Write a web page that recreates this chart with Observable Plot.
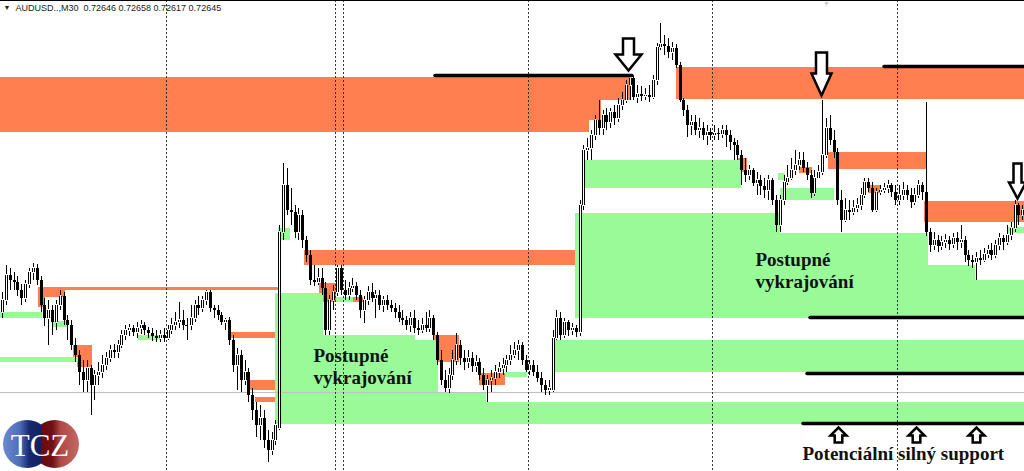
<!DOCTYPE html>
<html><head><meta charset="utf-8">
<script src="https://cdn.jsdelivr.net/npm/d3@7"></script>
<script src="https://cdn.jsdelivr.net/npm/@observablehq/plot@0.6"></script>
<style>
html,body{margin:0;padding:0;background:#fff;overflow:hidden}
#wrap{position:relative;width:1024px;height:471px;overflow:hidden}
#logo{position:absolute;left:0;top:418px}
</style></head><body><div id="wrap"></div>
<script>
// AUDUSD M30 candles, prices in points (1e-5) above 0.72065, bar index = time
const open = [376,400,450,440,436,420,404,432,456,464,
440,390,364,380,356,390,408,360,350,310,
290,256,240,264,230,250,256,270,284,300,
296,310,330,340,344,336,344,350,340,334,
328,324,330,324,340,350,356,360,350,350,
364,390,384,400,416,384,380,370,356,360,
320,270,290,240,256,210,180,150,164,120,
100,120,144,536,630,580,576,536,570,520,
490,440,436,444,424,340,400,416,464,420,
410,424,428,410,380,400,416,404,410,390,
400,390,384,376,364,360,350,364,344,340,
350,344,364,330,280,240,224,250,280,310,
284,276,284,268,276,250,230,240,244,256,
264,270,280,290,300,310,280,260,270,256,
244,230,220,220,324,364,330,356,340,344,
336,590,700,704,730,760,744,770,756,776,
764,790,800,830,844,806,812,808,810,806,
840,906,912,908,896,904,870,800,780,750,
756,740,744,730,736,730,734,732,740,730,
716,710,690,660,650,660,634,640,628,620,
640,600,550,600,636,644,660,670,680,664,
650,614,644,656,690,744,720,696,600,560,
580,576,584,590,610,636,624,580,616,620,
624,630,616,600,610,620,610,596,610,630,
616,536,510,520,508,516,520,512,524,516,
520,490,480,476,484,480,492,500,490,510,
524,516,530,544,590,570];
const high = [416,470,464,456,448,432,440,464,474,472,
448,404,400,390,400,420,416,370,360,324,
300,280,280,270,260,276,290,296,310,312,
320,340,350,352,350,356,360,356,346,344,
340,340,344,350,364,376,396,380,364,390,
400,408,408,420,420,390,390,376,364,366,
330,304,300,280,264,224,196,190,180,140,
136,160,550,674,664,624,590,584,580,528,
500,470,464,464,436,410,430,470,470,440,
436,444,436,420,408,428,434,420,420,408,
410,400,394,390,380,368,376,380,360,364,
376,380,370,336,300,260,264,300,334,320,
300,300,296,290,284,264,250,260,270,276,
284,290,310,316,320,316,290,280,280,270,
256,240,240,340,380,376,364,360,354,350,
600,710,724,740,770,800,780,784,784,790,
804,816,840,852,848,830,828,824,830,850,
914,954,930,924,916,912,876,804,790,770,
770,764,756,750,744,750,744,750,750,740,
724,720,700,684,670,664,656,650,644,650,
644,610,610,650,670,684,700,696,696,676,
660,660,670,800,764,770,740,704,620,604,
600,600,604,624,644,644,636,624,630,634,
640,634,630,630,636,630,624,624,640,636,
796,544,536,530,528,532,528,534,536,550,
528,500,490,496,500,504,510,514,520,534,
530,550,556,600,594,590];
const low = [364,390,420,420,408,390,396,424,440,430,
376,348,310,330,340,380,350,320,300,276,
230,216,216,170,200,230,244,260,276,284,
284,304,320,328,328,324,332,330,324,318,
316,316,316,320,332,340,344,340,320,340,
356,370,376,390,376,364,360,350,340,310,
256,220,216,230,196,160,126,120,104,76,
90,110,140,520,570,550,524,520,504,476,
430,428,430,410,330,330,380,408,410,400,
400,416,400,364,354,390,396,364,380,376,
380,376,364,356,350,340,336,334,330,334,
336,336,320,270,230,216,214,240,270,270,
260,264,256,256,240,220,196,216,230,244,
250,256,270,284,280,270,256,250,248,236,
216,210,210,216,320,320,324,328,330,326,
328,580,680,680,720,730,730,740,744,750,
756,780,794,800,800,794,798,800,796,802,
830,900,890,884,880,864,796,768,726,730,
730,724,720,710,720,720,720,724,706,700,
680,680,630,636,640,628,610,610,604,600,
590,536,536,590,630,640,650,660,656,640,
604,608,644,650,684,710,684,590,536,556,
560,570,576,580,604,616,576,576,610,614,
614,606,590,590,600,600,584,590,604,600,
528,496,500,496,500,504,500,504,500,504,
476,468,464,440,470,476,484,480,484,500,
500,510,520,536,550,560];
const close = [400,450,440,436,420,404,432,456,464,440,
390,364,380,356,390,408,360,350,310,290,
256,240,264,230,250,256,270,284,300,296,
310,330,340,344,336,344,350,340,334,328,
324,330,324,340,350,356,360,350,350,364,
390,384,400,416,384,380,370,356,360,320,
270,290,240,256,210,180,150,164,120,100,
120,150,536,630,580,576,536,570,520,490,
440,436,444,424,340,400,416,464,420,410,
424,428,410,380,400,416,404,410,390,400,
390,384,376,364,360,350,364,344,340,350,
344,364,330,280,240,224,250,280,310,284,
276,284,268,276,250,230,240,244,256,264,
270,280,290,300,310,280,260,270,256,244,
230,220,224,324,364,330,356,340,344,336,
590,700,704,730,760,744,770,756,776,764,
790,800,830,844,806,812,808,810,806,840,
906,912,908,896,904,870,800,780,750,756,
740,744,730,736,730,734,732,740,730,716,
710,690,660,650,660,634,640,628,620,640,
600,550,600,636,644,660,670,680,664,650,
614,644,656,690,744,720,696,600,560,580,
576,584,590,610,636,624,580,616,620,624,
630,616,600,610,620,610,596,610,630,616,
536,510,520,508,516,520,512,524,516,520,
490,480,476,484,480,492,500,490,510,524,
516,530,544,590,570,580];

// zones: [fromBar, toBar, lowPrice, highPrice]
const supplyZones = [
[-1,152.5,736,846],[152.5,155.5,760,846],[155.5,163,800,846],
[175,267,802,866],[214.5,240,662,696],[239.5,267,556,598],
[191,193.5,656,684],[207,210.5,654,666],[225,228,614,630],
[78.5,149.5,470,500],[9.5,71.7,420,426],[9.4,11.2,386,426],[11.2,16.4,406,426],
[58.7,71.7,324,336],[18.4,23.4,286,310],[19.5,23.4,266,286],
[63.9,71.2,220,240],[65.7,71.2,196,206],[82.3,86.8,396,434],[91.2,93.8,396,406],
[112,118.7,304,330],[113.2,118.7,276,304],[123.9,130.6,230,254]];
const demandZones = [
[70.9,267,152,196],[70.9,83.4,196,414],[83.4,107.3,196,330],[107.3,113.2,196,320],
[113.2,125.7,196,216],[143.6,267,256,320],[130.6,136.4,246,256],
[148.8,202.1,364,574],[202.1,240.5,364,534],[240.5,252.7,364,470],[252.7,267,364,440],
[151,192,624,680],[202,216,600,624],[201.6,203.4,640,654],
[-1,10.4,364,376],[-1,19.7,276,286],[13.2,17.1,346,358],[35.3,41,320,330],
[71.7,74.8,520,544],[86.8,91.2,396,406],[261.3,265.5,534,546]];
// black levels: [fromBar, toBar, price]
const levels = [[112.5,163.6,850],[229,267,868],[209.9,267,366],[209.1,267,254],[208,267,154]];
const separators = [42.5,86.5,88.5,136.5,184.5,232.5];
const currentLevel = 216;
const downArrows = [{i:162.6,v:860},{i:212.7,v:810},{i:263.6,v:604}];
const upArrows = [{i:217.1,v:146},{i:237.4,v:146},{i:253,v:146}];
const notes = [
 {i:80.8, v:234, text:"Postupné\nvykrajování"},
 {i:195.6, v:426, text:"Postupné\nvykrajování"},
 {i:207.8, v:82, text:"Potenciální silný support"}];
const symbol = "AUDUSD..,M30";
const quote = ["0.72646","0.72658","0.72617","0.72645"];

const bars = open.map((o, i) => ({i, o, h: high[i], l: low[i], c: close[i]}));
const toRect = a => a.map(([x1, x2, y1, y2]) => ({x1, x2, y1, y2}));
const blockArrow = (hw, sw, hh) => ({draw(ctx, l) {
  ctx.moveTo(-sw, 0); ctx.lineTo(-sw, hh - l); ctx.lineTo(-hw, hh - l); ctx.lineTo(0, -l);
  ctx.lineTo(hw, hh - l); ctx.lineTo(sw, hh - l); ctx.lineTo(sw, 0); ctx.closePath();
}});
const downStyle = [{length:32,hw:13,sw:5.5,hh:16},{length:43,hw:10,sw:5.5,hh:22},{length:35,hw:8.5,sw:4,hh:16}];
const txt = {fontFamily:"Liberation Serif", fontWeight:"bold", fontSize:19, fill:"#111", textAnchor:"start", lineAnchor:"bottom", lineHeight:1.15};

const chart = Plot.plot({
  width: 1024, height: 471, margin: 0,
  x: {domain: [-0.52, 265.45], axis: null, round: true},
  y: {domain: [58, 1000], axis: null, round: true},
  style: {background: "#fff", overflow: "hidden"},
  marks: [
    Plot.rect(toRect(supplyZones), {x1:"x1", x2:"x2", y1:"y1", y2:"y2", fill:"#FF7F50"}),
    Plot.rect(toRect(demandZones), {x1:"x1", x2:"x2", y1:"y1", y2:"y2", fill:"#98FB98"}),
    Plot.ruleY([currentLevel], {stroke:"#c0c0c0"}),
    Plot.ruleX(separators, {stroke:"#333", strokeDasharray:"2,2"}),
    Plot.ruleX(bars, {x:"i", y1:"l", y2:"h", stroke:"#000"}),
    Plot.ruleX(bars, {x:"i", y1:"o", y2:"c", stroke:"#000", strokeWidth:3, strokeLinecap:"butt"}),
    Plot.ruleX(bars.filter(d => d.c > d.o), {x:"i", y1:"o", y2:"c", stroke:"#fff", strokeWidth:1, insetTop:1, insetBottom:1}),
    Plot.ruleY(bars.filter(d => d.c === d.o), {y:"o", x1: d => d.i - 0.4, x2: d => d.i + 0.4, stroke:"#000"}),
    Plot.ruleY(levels, {y: d => d[2], x1: d => d[0], x2: d => d[1], stroke:"#000", strokeWidth:3.5, strokeLinecap:"round"}),
    ...downArrows.map((a, k) => Plot.vector([a], {x:"i", y:"v", rotate:180, anchor:"end", length: downStyle[k].length,
      shape: blockArrow(downStyle[k].hw, downStyle[k].sw, downStyle[k].hh), stroke:"#000", fill:"#fff", strokeWidth:2.5, strokeLinejoin:"miter"})),
    Plot.vector(upArrows, {x:"i", y:"v", rotate:0, anchor:"end", length:15, shape: blockArrow(8, 3.8, 8), stroke:"#000", fill:"#fff", strokeWidth:2.5, strokeLinejoin:"miter"}),
    Plot.text(notes, {x:"i", y:"v", text:"text", ...txt}),
    Plot.ruleY([1000], {stroke:"#000"}),
    Plot.text(["▼"], {text: d => d, frameAnchor:"top-left", dx:3, dy:5, lineAnchor:"top", textAnchor:"start", fontSize:7, fill:"#222"}),
    Plot.text([symbol + "\u00a0 " + quote.join(" ")], {text: d => d, frameAnchor:"top-left", dx:15, dy:4, lineAnchor:"top", textAnchor:"start", fontSize:9, fontFamily:"Liberation Sans", fill:"#222"}),
    Plot.text(["▼"], {text: d => d, x: () => 214, frameAnchor:"top", dy:1, lineAnchor:"top", fontSize:7, fill:"#c8c8c8"})
  ]
});
document.getElementById("wrap").appendChild(chart);
document.getElementById("wrap").insertAdjacentHTML("beforeend", `
<svg id="logo" width="84" height="53" viewBox="0 0 84 53">
 <defs>
  <linearGradient id="gb" x1="0" x2="1"><stop offset="0" stop-color="#6d8bd0"/><stop offset="0.35" stop-color="#4d6db8"/><stop offset="0.55" stop-color="#17286e"/><stop offset="1" stop-color="#0e1b5c"/></linearGradient>
  <linearGradient id="gr" x1="0" x2="1"><stop offset="0" stop-color="#5a0a10"/><stop offset="0.45" stop-color="#6f1116"/><stop offset="0.62" stop-color="#b04a47"/><stop offset="1" stop-color="#c46864"/></linearGradient>
  <clipPath id="cl"><rect x="0" y="0" width="41" height="53"/></clipPath>
 </defs>
 <circle cx="55" cy="26" r="24" fill="url(#gr)"/>
 <circle cx="27" cy="26" r="24" fill="url(#gb)" clip-path="url(#cl)"/>
 <text x="40" y="38" text-anchor="middle" font-family="Liberation Serif" font-size="31" fill="#fff">TCZ</text>
</svg>`);
</script></body></html>
